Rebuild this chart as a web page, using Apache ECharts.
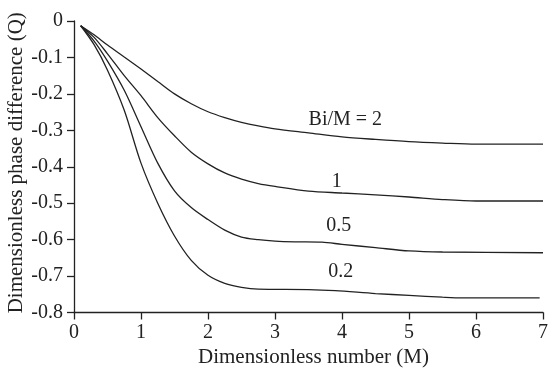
<!DOCTYPE html>
<html>
<head>
<meta charset="utf-8">
<script src="https://cdn.jsdelivr.net/npm/echarts@6/dist/echarts.min.js"></script>
<style>html,body{margin:0;padding:0;background:#fff}#c{width:548px;height:371px}</style>
</head>
<body>
<div id="c"></div>
<script>
// Data: [M, Q]
var curveBi2 = [[0.1,-0.013],[0.3,-0.038],[0.5,-0.066],[0.75,-0.099],[1,-0.132],[1.25,-0.166],[1.5,-0.2],[1.75,-0.227],[2,-0.249],[2.25,-0.265],[2.5,-0.278],[2.75,-0.288],[3,-0.296],[3.5,-0.307],[4,-0.318],[4.5,-0.325],[5,-0.331],[5.5,-0.335],[6,-0.338],[7,-0.338]];
var curveBi1 = [[0.1,-0.013],[0.3,-0.045],[0.5,-0.09],[0.75,-0.15],[1,-0.205],[1.25,-0.265],[1.5,-0.315],[1.75,-0.36],[2,-0.392],[2.25,-0.417],[2.5,-0.434],[2.75,-0.446],[3,-0.454],[3.5,-0.467],[4,-0.472],[4.5,-0.477],[5,-0.483],[5.5,-0.49],[6,-0.494],[7,-0.494]];
var curveBi05 = [[0.1,-0.013],[0.3,-0.055],[0.5,-0.11],[0.75,-0.19],[1,-0.29],[1.25,-0.39],[1.5,-0.466],[1.75,-0.512],[2,-0.545],[2.25,-0.574],[2.5,-0.593],[2.75,-0.6],[3,-0.604],[3.3,-0.606],[3.7,-0.607],[4,-0.613],[4.5,-0.622],[5,-0.631],[5.5,-0.634],[7,-0.636]];
var curveBi02 = [[0.1,-0.013],[0.3,-0.065],[0.5,-0.135],[0.75,-0.245],[1,-0.39],[1.25,-0.5],[1.5,-0.59],[1.75,-0.657],[2,-0.698],[2.25,-0.72],[2.5,-0.731],[2.75,-0.736],[3.5,-0.737],[3.9,-0.74],[4.5,-0.748],[5,-0.753],[5.5,-0.758],[5.8,-0.76],[6.95,-0.76]];
var curveNames = ['Bi/M = 2', '1', '0.5', '0.2'];
var labelPositions = [[4.05,-0.272],[3.92,-0.441],[3.95,-0.561],[3.98,-0.688]];
var xTicks = [0,1,2,3,4,5,6,7];
var yTicks = [0,-0.1,-0.2,-0.3,-0.4,-0.5,-0.6,-0.7,-0.8];

var FONT = 'Liberation Serif';
var INK = '#222';
var curves = [curveBi2, curveBi1, curveBi05, curveBi02];

var series = curves.map(function (d, i) {
  return {
    type: 'line',
    name: curveNames[i],
    data: d,
    smooth: 0.3,
    showSymbol: false,
    symbol: 'none',
    lineStyle: { color: INK, width: 1.3 },
    z: 3,
    markPoint: {
      symbol: 'circle',
      symbolSize: 0,
      silent: true,
      data: [{
        coord: labelPositions[i],
        label: {
          show: true,
          position: 'inside',
          formatter: curveNames[i],
          fontFamily: FONT,
          fontSize: 20,
          color: INK
        }
      }]
    }
  };
});

var chart = echarts.init(document.getElementById('c'), null, { renderer: 'canvas' });
chart.setOption({
  animation: false,
  backgroundColor: '#fff',
  grid: { left: 74, right: 5, top: 21, bottom: 58.5, containLabel: false, outerBoundsMode: 'none' },
  xAxis: {
    type: 'value',
    min: xTicks[0],
    max: xTicks[xTicks.length - 1],
    interval: 1,
    name: 'Dimensionless number (M)',
    nameLocation: 'middle',
    nameGap: 34,
    nameMoveOverlap: false,
    nameTextStyle: { fontFamily: FONT, fontSize: 21, color: INK, padding: [0, 0, 0, 10] },
    axisLine: { show: true, onZero: false, lineStyle: { color: INK, width: 1.3 } },
    axisTick: { show: true, length: 7, lineStyle: { color: INK, width: 1.3 } },
    axisLabel: { fontFamily: FONT, fontSize: 20, color: INK, margin: 10 },
    splitLine: { show: false }
  },
  yAxis: {
    type: 'value',
    min: yTicks[yTicks.length - 1],
    max: yTicks[0],
    interval: 0.1,
    name: 'Dimensionless phase difference (Q)',
    nameLocation: 'middle',
    nameGap: 47,
    nameRotate: 90,
    nameMoveOverlap: false,
    nameTextStyle: { fontFamily: FONT, fontSize: 21, color: INK, padding: [0, 0, 0, 8] },
    axisLine: { show: true, onZero: false, lineStyle: { color: INK, width: 1.3 } },
    axisTick: { show: true, length: 7, lineStyle: { color: INK, width: 1.3 } },
    axisLabel: {
      fontFamily: FONT, fontSize: 20, color: INK, margin: 11,
      formatter: function (v) { return v === 0 ? '0' : String(Math.round(v * 10) / 10); }
    },
    splitLine: { show: false }
  },
  series: series
});
</script>
</body>
</html>
